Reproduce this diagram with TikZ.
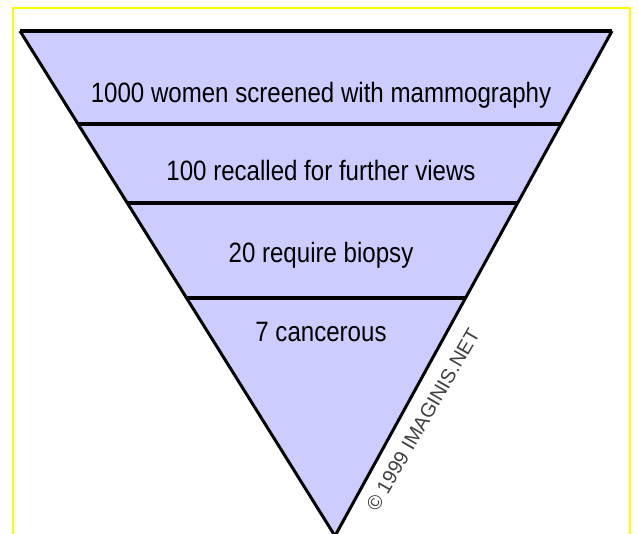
\documentclass[tikz,border=0pt]{standalone}
\usepackage{fontspec}
\newfontfamily\funnelfont[FakeStretch=0.86]{Liberation Sans}
\newfontfamily\notefont{Liberation Sans}
\usetikzlibrary{calc}
\definecolor{funnelblue}{RGB}{204,204,255}
\definecolor{frameyellow}{RGB}{255,255,0}
\tikzset{
  stage/.style={anchor=base,inner sep=0pt,font=\funnelfont\fontsize{28}{30}\selectfont},
  divider/.style={line width=4pt}
}

\begin{document}
\begin{tikzpicture}[x=1pt,y=-1pt]
\useasboundingbox (0,0) rectangle (638,534);
\draw[frameyellow,line width=1.5pt] (13,534)--(13,8)--(630,8)--(630,534);
\coordinate (TL) at (20,31);
\coordinate (TR) at (612,31);
\coordinate (A) at (335,536);
\fill[funnelblue] (TL)--(TR)--(A)--cycle;
\foreach \t/\k in {0.184/1,0.341/2,0.529/3}{
  \coordinate (L\k) at ($(TL)!\t!(A)$);
  \coordinate (R\k) at ($(TR)!\t!(A)$);
  \draw[divider] (L\k)--(R\k);}
\draw[line width=3pt] (TL)--(A)--(TR);
\draw[line width=4pt] (TL)--(TR);
\node[stage] (s1) at (321,103) {1000 women screened with mammography};
\node[stage] (s2) at (321,181) {100 recalled for further views};
\node[stage] (s3) at (321,263) {20 require biopsy};
\node[stage] (s4) at (321,342) {7 cancerous};
\node[rotate=60,inner sep=0pt,text=black!75,font=\notefont\fontsize{20}{22}\selectfont] (copy) at (423,420) {\textcopyright{} 1999 IMAGINIS.NET};
\end{tikzpicture}
\end{document}
